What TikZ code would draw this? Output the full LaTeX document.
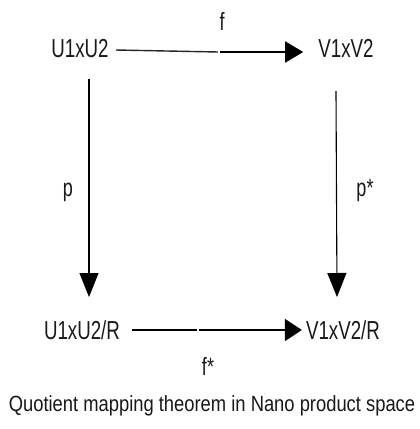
\documentclass[tikz,border=0pt]{standalone}
\usepackage{fontspec}
\setmainfont{Liberation Sans}
\usetikzlibrary{arrows.meta}
\newcommand\cond[1]{\scalebox{0.72}[1]{#1}}
\begin{document}
\begin{tikzpicture}[x=1pt,y=-1pt,
  lbl/.style={inner sep=0pt, text=black!90, font=\fontsize{26}{26}\selectfont, text height=18.6pt, text depth=0pt},
  tag/.style={inner sep=0pt, text=black!90, font=\fontsize{25}{25}\selectfont, anchor=base},
  thinline/.style={line width=1.4pt, black!85},
  arh/.style={line width=1.9pt, -{Triangle[length=18pt,width=21pt]}},
  arv/.style={line width=1.1pt, -{Triangle[length=24pt,width=19pt]}},
  arb/.style={line width=1.9pt, -{Triangle[length=17pt,width=22pt]}}]
\useasboundingbox (0,0) rectangle (420,429);
\fill[white] (0,0) rectangle (420,429);
\node[lbl] (a) at (80,48) {\cond{U1xU2}};
\node[lbl] (b) at (346,48) {\cond{V1xV2}};
\node[lbl] (c) at (82,330) {\cond{U1xU2/R}};
\node[lbl] (d) at (343,330) {\cond{V1xV2/R}};
\node[tag] (f) at (222,30) {\cond{f}};
\node[tag] (fs) at (208,375) {\cond{f*}};
\node[tag] (p) at (68,196) {\cond{p}};
\node[tag] (ps) at (365,196) {\cond{p*}};
\node[anchor=base, inner sep=0pt, text=black!90] (cap) at (212,411)
  {\fontsize{22}{22}\selectfont\scalebox{0.835}[1]{Quotient mapping theorem in Nano product space}};
\coordinate (g1) at (218,52);
\coordinate (g2) at (197,330);
\draw[thinline] ([xshift=7pt,yshift=-2pt]a.east) -- (g1);
\draw[arh] ([xshift=2pt]g1) -- ([xshift=-15pt,yshift=-4pt]b.west);
\draw[arv] ([xshift=9pt,yshift=-21.5pt]a.south) -- ([xshift=7pt,yshift=23.5pt]c.north);
\draw[arv] ([xshift=-10pt,yshift=-33.5pt]b.south) -- ([xshift=-6pt,yshift=23.5pt]d.north);
\draw[line width=1.9pt] ([xshift=12pt]c.east) -- (g2);
\draw[arb] ([xshift=2pt]g2) -- ([xshift=-4pt]d.west);
\end{tikzpicture}
\end{document}
